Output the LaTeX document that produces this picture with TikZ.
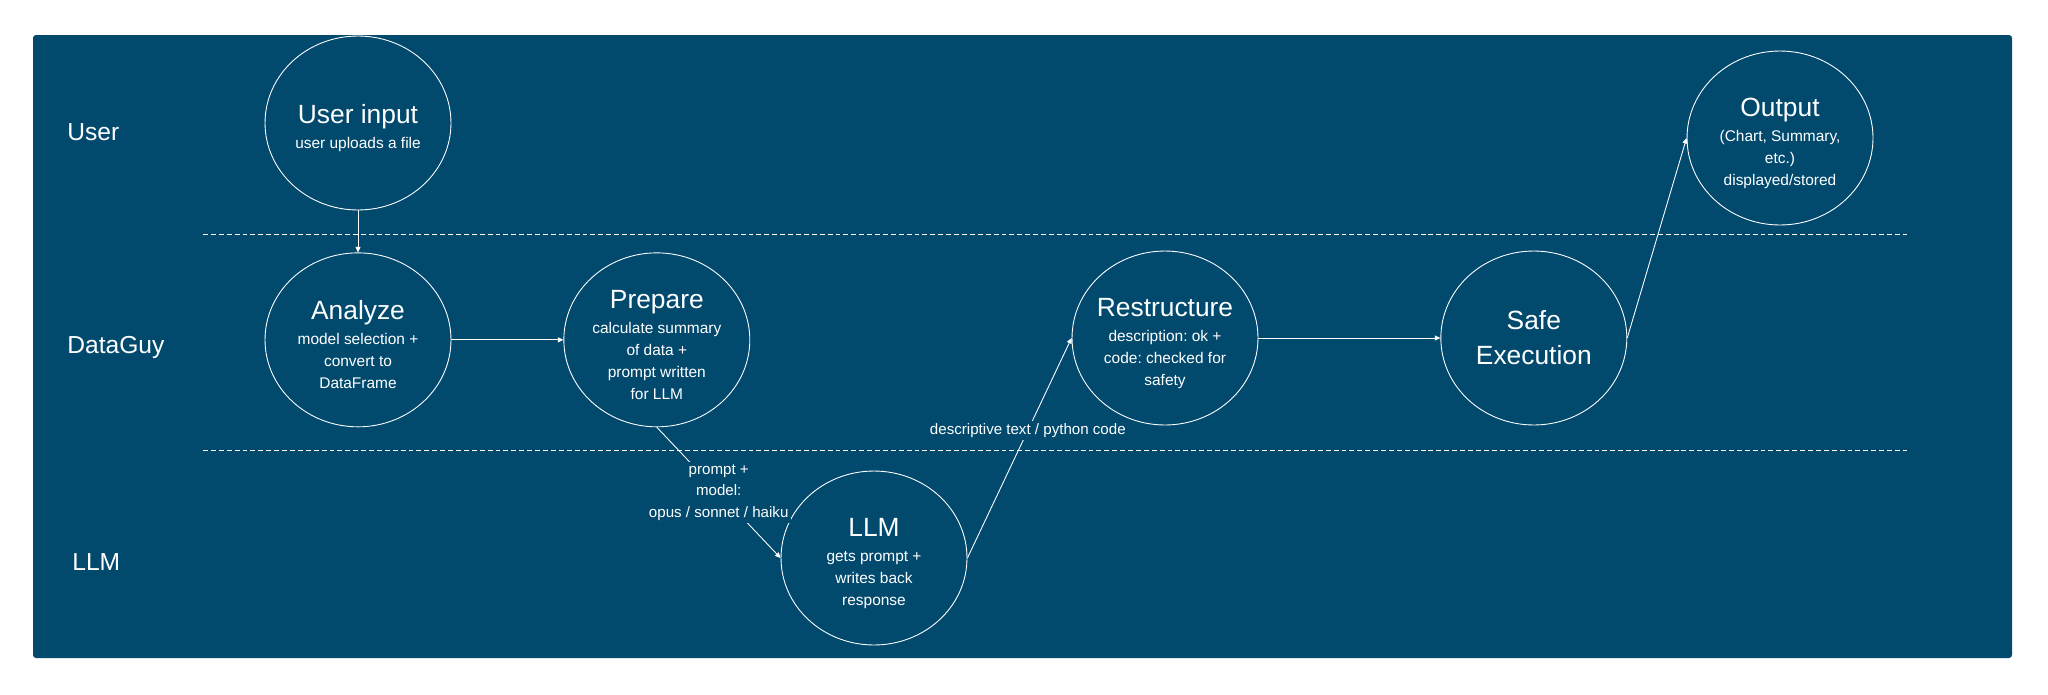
\documentclass[tikz,border=0pt]{standalone}
\usepackage{fontspec}
\setmainfont{Liberation Sans}
\usepackage{xcolor}
\definecolor{laneblue}{HTML}{014A6E}
\usetikzlibrary{positioning,arrows.meta,shapes.geometric}
\newcommand{\stagetitle}[1]{{\fontsize{15}{17}\selectfont\rule{0pt}{16.5pt}#1}}

\begin{document}
\frenchspacing
\begin{tikzpicture}[
      x=0.02cm, y=-0.02cm,
      stage/.style={ellipse, draw=white, line width=0.5pt, minimum width=3.72cm, minimum height=3.48cm,
                    inner sep=-6mm, align=center, text=white, font=\fontsize{8.8}{12.6}\selectfont},
      lane/.style={anchor=west, inner sep=0pt, text=white, font=\fontsize{14}{16}\selectfont},
      flow/.style={-{Triangle[length=1.1mm,width=1mm]}, white, line width=0.5pt},
      note/.style={fill=laneblue, text=white, align=center, inner sep=1.5pt, font=\fontsize{8.6}{12.3}\selectfont},
      divider/.style={white, line width=0.4pt, dash pattern=on 2.8pt off 1.7pt},
    ]
    \useasboundingbox (0,0) rectangle (2048,694);
    \fill[laneblue, rounded corners=0.06cm] (33,35) rectangle (2012,658);

    % lanes
    \draw[divider] (203,234) -- (1907,234);
    \draw[divider] (203,450) -- (1907,450);
    \node[lane] (laneuser) at (67,132) {User};
    \node[lane] (lanedata) at (67,347) {DataGuy};
    \node[lane] (lanellm) at (72,562) {LLM};

    % stages
    \node[stage] (userin) at (358,123) {\stagetitle{User input}\\[1.6pt] user uploads a file};
    \node[stage, below=0.84cm of userin] (analyze) {\stagetitle{Analyze}\\[1.6pt] model selection +\\ convert to\\ DataFrame};
    \node[stage, right=2.24cm of analyze] (prepare) {\stagetitle{Prepare}\\[1.6pt] calculate summary\\ of data +\\ prompt written\\ for LLM};
    \node[stage] (restructure) at (1165,338) {\stagetitle{Restructure}\\[1.6pt] description: ok +\\ code: checked for\\ safety};
    \node[stage, right=3.64cm of restructure, font=\fontsize{15}{19.9}\selectfont] (safe) {Safe\\ Execution};
    \node[stage] (output) at (1780,138) {\stagetitle{Output}\\[1.6pt] (Chart, Summary,\\ etc.)\\ displayed/stored};
    \node[stage] (llm) at (874,558) {\stagetitle{LLM}\\[1.6pt] gets prompt +\\ writes back\\ response};

    \draw[flow] (userin.south) -- (analyze.north);
    \draw[flow] (analyze) -- (prepare);
    \draw[flow] (prepare.south) -- node[note] (sendnote) {prompt +\\ model:\\ opus / sonnet / haiku} (llm.west);
    \draw[flow] (llm.east) -- node[note, pos=0.58] (backnote) {descriptive text / python code} (restructure.west);
    \draw[flow] (restructure) -- (safe);
    \draw[flow] (safe.east) -- (output.west);
  \end{tikzpicture}
\end{document}
